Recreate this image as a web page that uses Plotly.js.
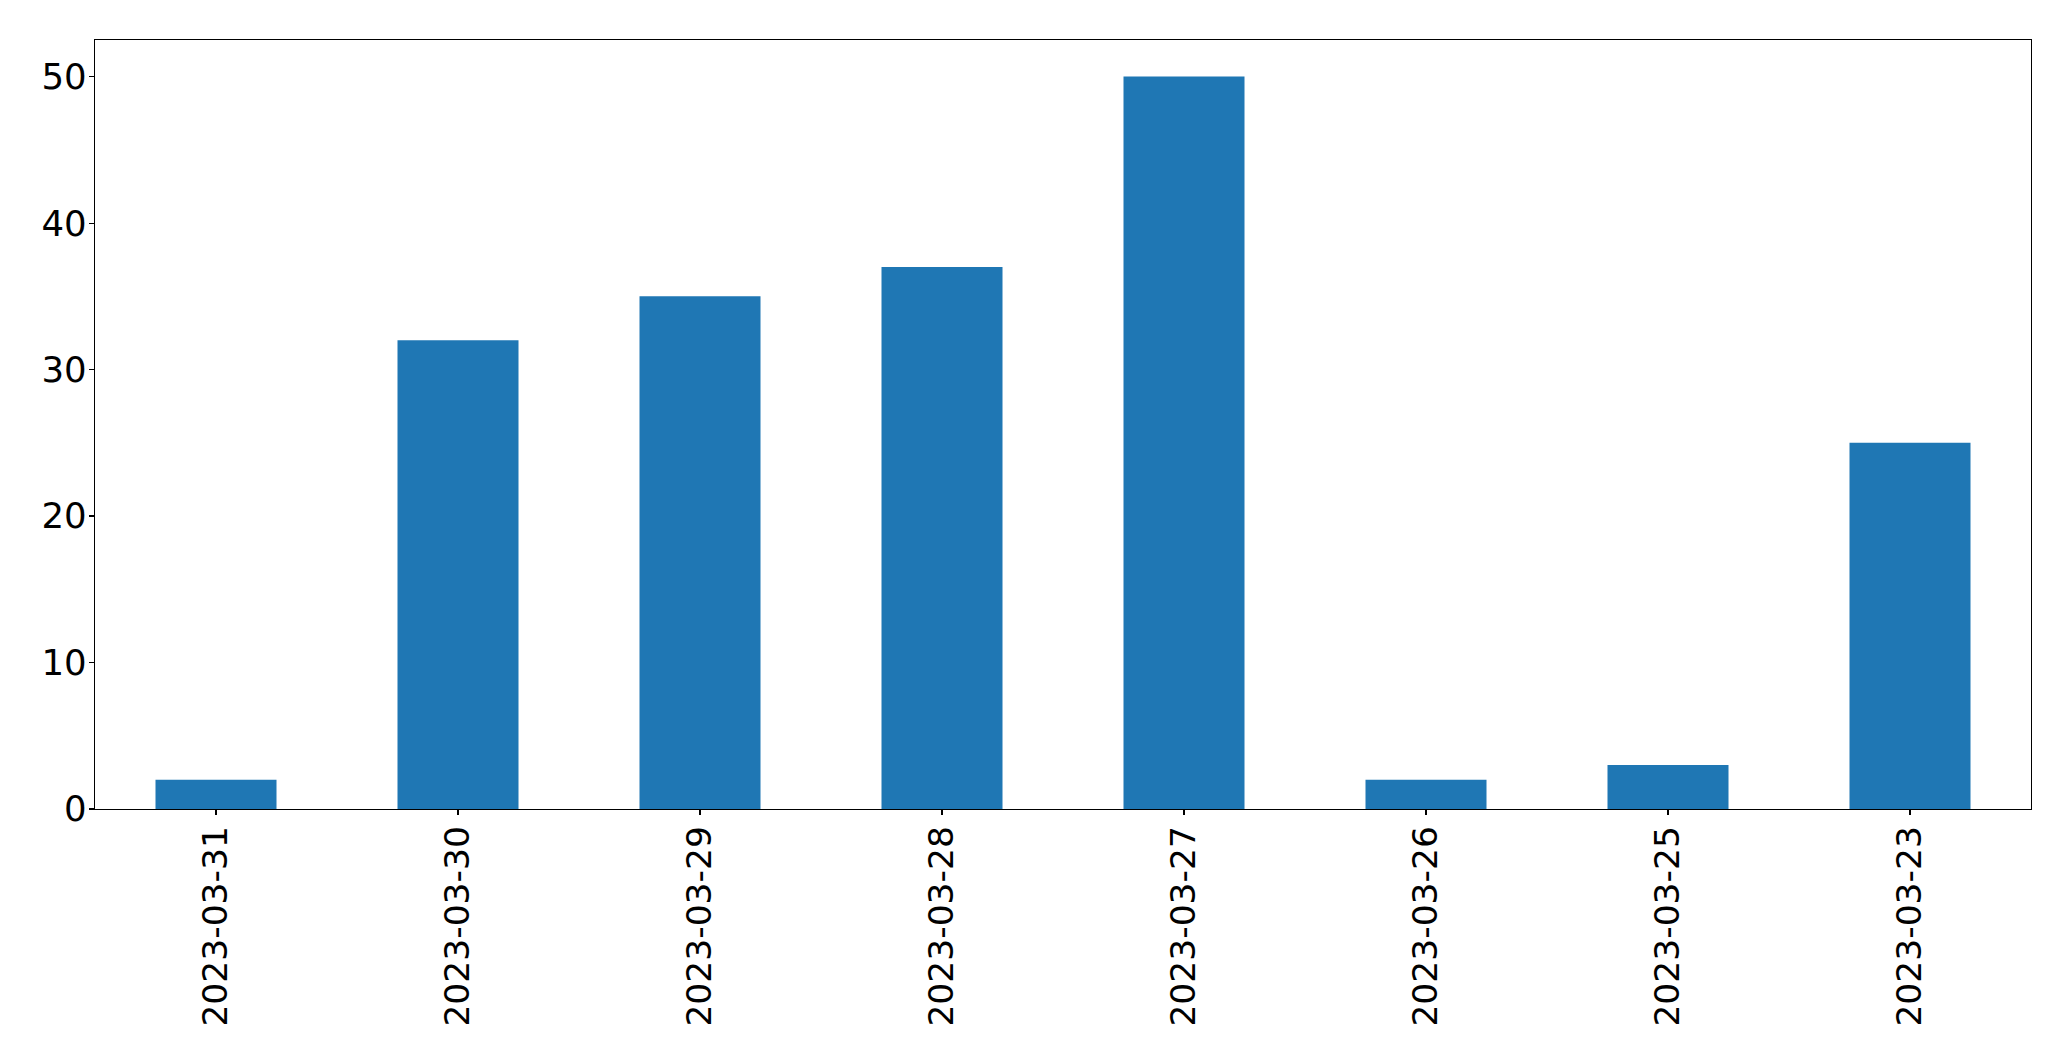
<!DOCTYPE html>
<html>
<head>
<meta charset="utf-8">
<script src="https://cdn.plot.ly/plotly-3.0.1.min.js"></script>
<style>html,body{margin:0;padding:0;background:#fff;}#chart{width:2071px;height:1061px;}</style>
</head>
<body>
<div id="chart"></div>
<script>
const categories = ["2023-03-31","2023-03-30","2023-03-29","2023-03-28","2023-03-27","2023-03-26","2023-03-25","2023-03-23"];
const values = [2, 32, 35, 37, 50, 2, 3, 25];
const yTicks = [0, 10, 20, 30, 40, 50];

const trace = {
  type: 'bar',
  x: categories,
  y: values,
  width: 0.5,
  marker: {color: '#1f77b4', line: {width: 0}},
  hoverinfo: 'x+y'
};

const fontFam = 'DejaVu Sans, sans-serif';
const layout = {
  width: 2071, height: 1061,
  margin: {l: 94.5, r: 40, t: 39.5, b: 252, pad: 0},
  paper_bgcolor: '#fff', plot_bgcolor: '#fff',
  showlegend: false,
  bargap: 0.5,
  xaxis: {
    type: 'category',
    range: [-0.5, 7.5],
    tickangle: -90,
    ticks: 'outside', ticklen: 5, tickwidth: 1.2, tickcolor: '#000',
    showline: true, linecolor: '#000', linewidth: 1.3, mirror: true,
    showgrid: false, zeroline: false,
    tickfont: {family: fontFam, size: 34.5, color: '#000'},
    ticklabelstandoff: -3
  },
  yaxis: {
    range: [0, 52.5],
    tickvals: yTicks,
    ticktext: yTicks.map(String),
    ticks: 'outside', ticklen: 5, tickwidth: 1.2, tickcolor: '#000',
    showline: true, linecolor: '#000', linewidth: 1.3, mirror: true,
    showgrid: false, zeroline: false,
    tickfont: {family: fontFam, size: 35.5, color: '#000'},
    ticklabelstandoff: -5
  }
};

Plotly.newPlot('chart', [trace], layout, {displayModeBar: false, staticPlot: true});
</script>
</body>
</html>
